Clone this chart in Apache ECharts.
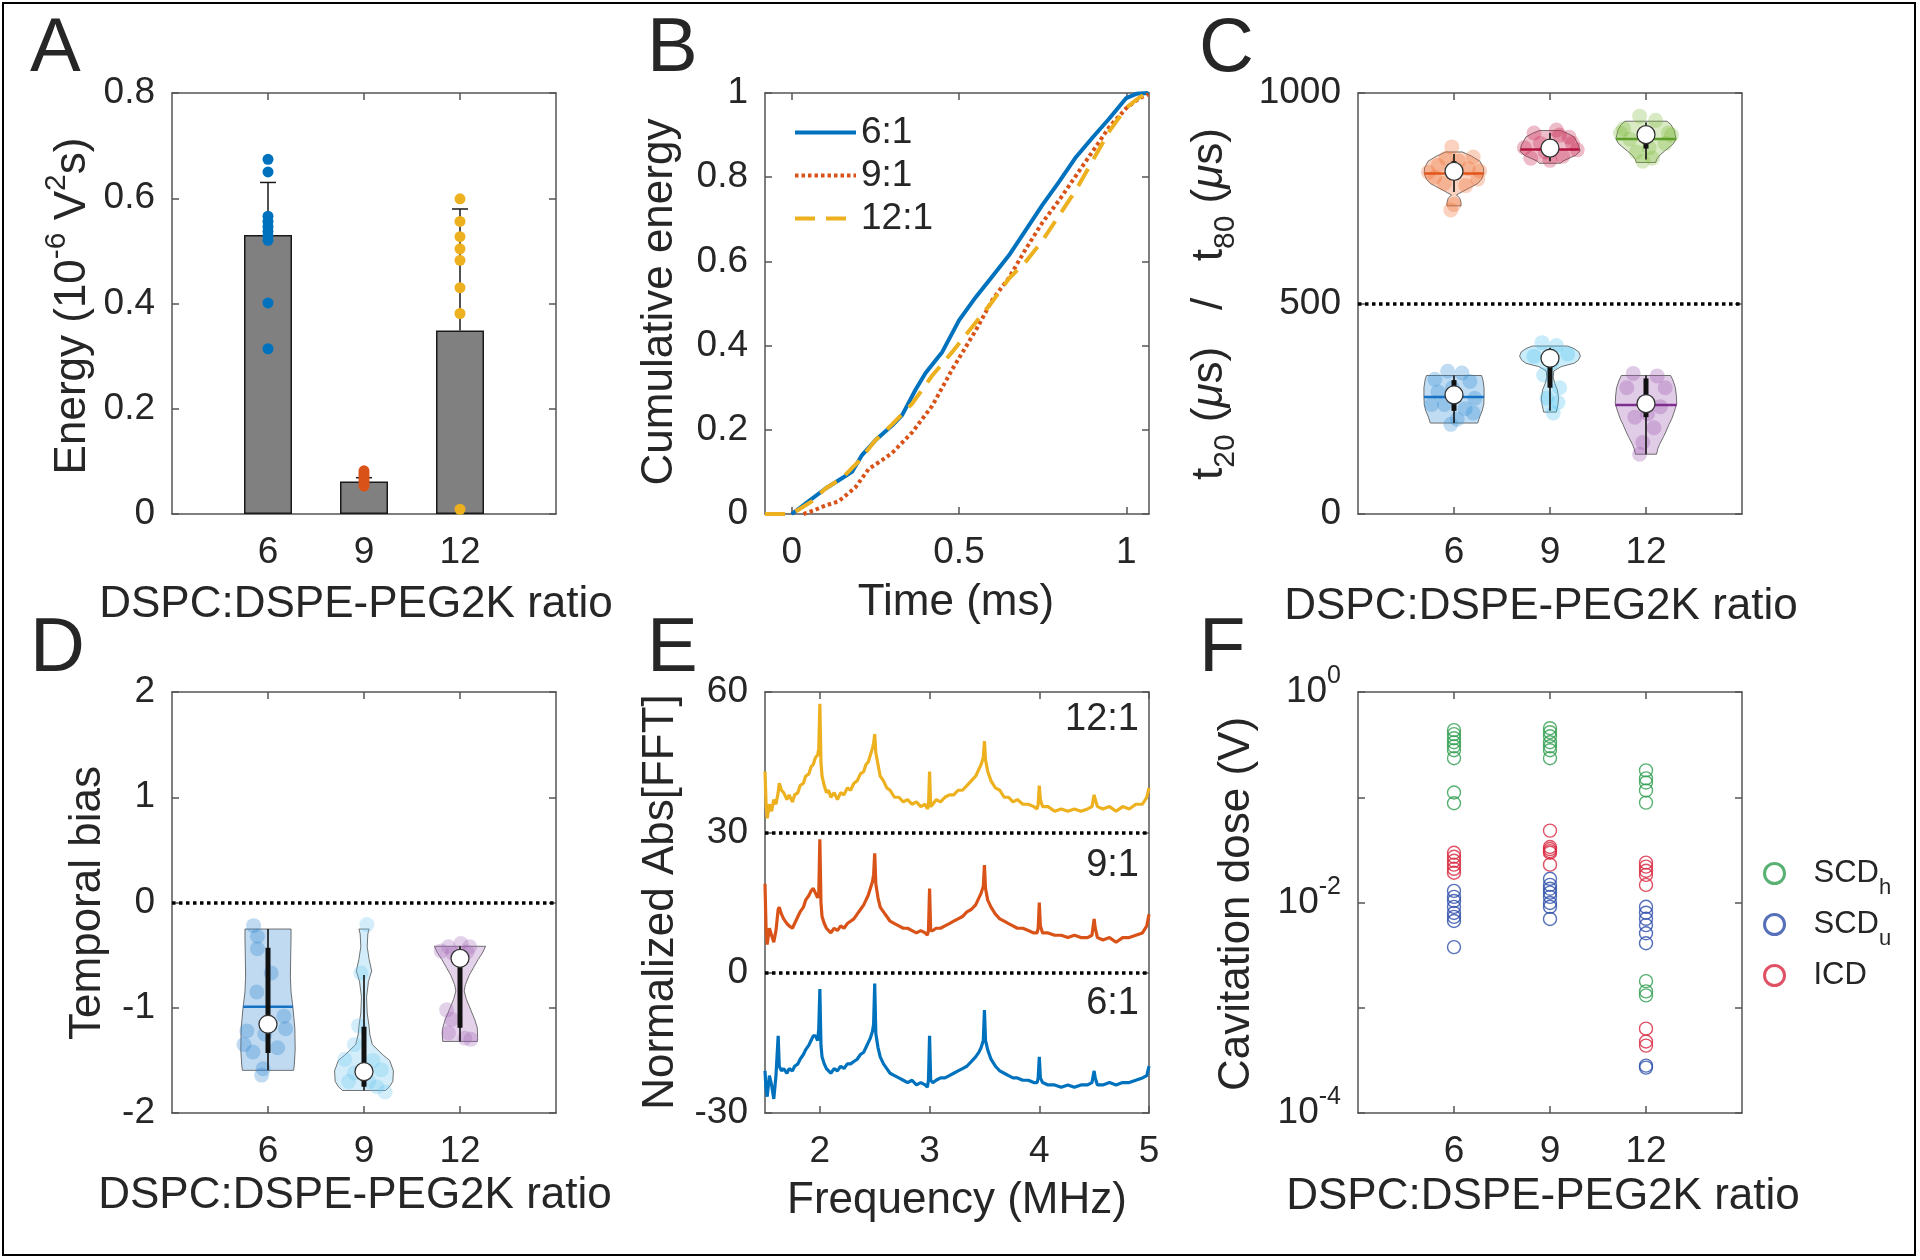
<!DOCTYPE html>
<html><head><meta charset="utf-8">
<script src="https://cdn.jsdelivr.net/npm/echarts@6.0.0/dist/echarts.min.js"></script>
<style>html,body{margin:0;padding:0;background:#fff}#main{width:1920px;height:1260px}</style>
</head><body><div id="main"></div>
<script>
// ---------------- shared categories ----------------
const ratioCats = [6, 9, 12];

// ---------------- Panel A ----------------
const aMeans = [0.53, 0.0616, 0.3485];
const aSdTop = [0.63, 0.069, 0.5796];
const aPts6 = [0.674, 0.650, 0.566, 0.556, 0.546, 0.537, 0.528, 0.52, 0.401, 0.314];
const aPts9 = [0.082, 0.077, 0.072, 0.067, 0.062, 0.057, 0.053];
const aPts12 = [0.599, 0.556, 0.527, 0.504, 0.482, 0.430, 0.381, 0.009];

// ---------------- Panel B ----------------
const bX6 = [0,0.05,0.1,0.15,0.18,0.21,0.25,0.3,0.33,0.37,0.4,0.45,0.5,0.55,0.6,0.65,0.7,0.75,0.8,0.85,0.9,0.95,1.0,1.03,1.066];
const bY6 = [0,0.03,0.06,0.085,0.1,0.14,0.175,0.21,0.235,0.295,0.335,0.385,0.46,0.515,0.565,0.615,0.675,0.735,0.79,0.848,0.895,0.94,0.988,0.998,1.0];
const bX9 = [0.035,0.07,0.1,0.14,0.19,0.23,0.27,0.3,0.36,0.42,0.48,0.55,0.6,0.65,0.7,0.75,0.8,0.85,0.9,0.95,1.0,1.04,1.066];
const bY9 = [0,0.01,0.02,0.03,0.063,0.107,0.128,0.145,0.194,0.257,0.344,0.436,0.509,0.562,0.63,0.693,0.746,0.804,0.862,0.92,0.964,0.988,0.997];
const bX12 = [-0.08,-0.01,0.02,0.06,0.1,0.15,0.2,0.25,0.3,0.36,0.42,0.48,0.55,0.6,0.65,0.7,0.75,0.8,0.85,0.9,0.95,1.0,1.04,1.066];
const bY12 = [0,0,0.01,0.03,0.06,0.085,0.125,0.175,0.213,0.262,0.329,0.385,0.455,0.505,0.56,0.6,0.65,0.71,0.77,0.84,0.91,0.965,0.99,1.0];
const bNames = ['6:1', '9:1', '12:1'];

// ---------------- Panel C ----------------
const cT80Colors = ['#EF6C2E', '#C8244F', '#80BB3A'];
const cT80Lines  = ['#E0561A', '#B4123E', '#5E9E2A'];
const cT20Colors = ['#2F8BD6', '#4CC0EE', '#9A55B0'];
const cT20Lines  = ['#1672C4', '#2AA8DD', '#7E2F8E'];
// outline: [value, half-width in ratio units]
const cT80Shapes = [
  [[860,0.26],[850,0.55],[838,0.81],[822,0.92],[809,0.93],[795,0.86],[785,0.74],[770,0.37],[758,0.08],[750,0.18],[740,0.22],[732,0.22]],
  [[911,0.33],[904,0.55],[896,0.75],[877,0.89],[862,0.94],[852,0.8],[845,0.6],[838,0.4],[833,0.33]],
  [[933,0.66],[925,0.78],[911,0.88],[891,0.94],[880,0.86],[872,0.74],[862,0.58],[853,0.44],[843,0.34],[835,0.3]]
];
const cT20Shapes = [
  [[329,0.86],[320,0.9],[300,0.94],[280,0.94],[260,0.93],[245,0.88],[230,0.8],[216,0.74]],
  [[399,0.55],[393,0.75],[385,0.9],[375,0.95],[365,0.88],[358,0.75],[350,0.35],[340,0.12],[325,0.1],[310,0.15],[295,0.23],[275,0.27],[260,0.25],[250,0.22],[242,0.2]],
  [[329,0.77],[318,0.84],[300,0.92],[280,0.95],[262,0.96],[242,0.88],[225,0.8],[213,0.72],[195,0.62],[184,0.55],[165,0.42],[155,0.37],[142,0.33]]
];
// [median, mean, meanHalfWidth, q1, q3, whiskerLow, whiskerHigh]
const cT80Stats = [[814,809,0.93,795,838,765,855],[869,866,0.92,852,885,838,905],[901,891,0.94,868,918,842,930]];
const cT20Stats = [[283,278,0.94,245,318,216,329],[370,null,0,300,382,245,395],[262,259,0.96,230,322,142,329]];
// points: [x offset, value]
const cT80Points = [
  [[-0.07,872],[0.6,848],[-0.5,828],[0.74,795],[-0.8,812],[0.37,780],[-0.3,785],[0.15,838],[-0.25,845],[0.45,820],[-0.6,800],[0.0,735],[-0.1,722],[0.8,815]],
  [[-0.5,905],[0.2,912],[0.6,895],[-0.8,870],[0.85,865],[-0.3,880],[0.4,850],[-0.6,845],[0.0,840],[0.7,880],[-0.15,860],[0.3,900]],
  [[-0.2,945],[0.3,935],[-0.7,915],[0.7,905],[-0.5,890],[0.6,880],[0.1,870],[-0.3,860],[0.2,845],[-0.1,838],[0.8,900],[-0.8,905]]
];
const cT20Points = [
  [[-0.2,339],[0.25,335],[-0.6,320],[0.5,315],[-0.05,300],[-0.5,290],[0.65,275],[-0.3,260],[0.35,250],[0.1,225],[-0.1,213],[-0.7,260],[0.6,240]],
  [[-0.25,407],[0.2,400],[0.55,380],[-0.5,375],[0.05,360],[0.3,300],[-0.1,275],[0.1,240],[0.25,265],[-0.2,330]],
  [[-0.4,334],[0.35,328],[-0.6,300],[0.05,262],[0.45,255],[0.05,238],[-0.35,230],[0.25,205],[-0.1,170],[-0.2,142],[0.6,300]]
];
const cRef = 500;

// ---------------- Panel D ----------------
const dColors = ['#2E86D0', '#6EC6F0', '#A468B8'];
const dLines  = ['#1672C4', '#2AA8DD', '#7E2F8E'];
const dShapes = [
  [[-0.252,0.72],[-0.35,0.72],[-0.5,0.71],[-0.7,0.7],[-0.85,0.72],[-1.0,0.78],[-1.2,0.84],[-1.4,0.85],[-1.55,0.82],[-1.595,0.8]],
  [[-0.252,0.16],[-0.3,0.12],[-0.42,0.1],[-0.54,0.16],[-0.65,0.24],[-0.75,0.14],[-0.9,0.08],[-1.05,0.1],[-1.18,0.16],[-1.25,0.18],[-1.35,0.26],[-1.45,0.6],[-1.5,0.8],[-1.6,0.92],[-1.7,0.9],[-1.75,0.8],[-1.786,0.67]],
  [[-0.416,0.8],[-0.48,0.7],[-0.54,0.57],[-0.62,0.42],[-0.69,0.29],[-0.78,0.17],[-0.84,0.13],[-0.92,0.2],[-1.03,0.35],[-1.12,0.47],[-1.19,0.54],[-1.28,0.55],[-1.32,0.54]]
];
const dStats = [[-1.157,-0.99,0.78,-1.43,-0.43,-1.595,-0.252],[-1.607,null,0,-1.75,-1.18,-1.786,-0.69],[-0.53,null,0,-1.19,-0.6,-1.32,-0.416]];
const dPoints = [
  [[-0.45,-0.22],[-0.33,-0.32],[-0.33,-0.44],[0.1,-0.67],[-0.35,-0.85],[0.5,-1.08],[-0.66,-1.22],[-0.1,-1.25],[0.55,-1.2],[-0.47,-1.42],[-0.75,-1.35],[0.3,-1.38],[-0.15,-1.58],[-0.2,-1.64]],
  [[0.09,-0.21],[-0.1,-0.67],[-0.17,-1.17],[-0.3,-1.35],[-0.6,-1.49],[0.54,-1.59],[0.15,-1.7],[0.66,-1.8],[-0.48,-1.7],[0.28,-1.5],[-0.3,-1.62],[0.4,-1.75]],
  [[-0.36,-0.42],[0.03,-0.39],[0.3,-0.42],[-0.59,-0.46],[-0.23,-0.48],[0.22,-0.47],[-0.42,-1.02],[-0.26,-1.11],[0.15,-1.29],[0.34,-1.3],[-0.36,-1.24]]
];
const dRef = 0;

// ---------------- Panel E ----------------
const eFreq = [
  1.50,1.51,1.52,1.54,1.56,1.58,1.60,1.62,1.63,1.65,
  1.67,1.70,1.72,1.75,1.77,1.80,1.82,1.85,1.87,1.90,
  1.92,1.94,1.96,1.98,1.99,2.00,2.01,2.02,2.04,2.06,
  2.08,2.10,2.13,2.16,2.19,2.22,2.25,2.28,2.31,2.34,
  2.37,2.40,2.42,2.44,2.46,2.48,2.49,2.50,2.51,2.53,
  2.55,2.58,2.61,2.64,2.68,2.72,2.76,2.80,2.84,2.88,
  2.92,2.96,2.98,2.99,3.00,3.01,3.03,3.06,3.10,3.14,
  3.18,3.22,3.26,3.30,3.34,3.38,3.42,3.45,3.47,3.49,
  3.50,3.51,3.53,3.56,3.60,3.64,3.68,3.72,3.76,3.80,
  3.85,3.90,3.95,3.98,3.99,4.00,4.01,4.03,4.08,4.14,
  4.20,4.26,4.32,4.38,4.44,4.48,4.50,4.51,4.53,4.58,
  4.64,4.70,4.76,4.82,4.88,4.94,4.98,5.00];
const eAmp12 = [
  43,36,33,36,34.5,37,36,38.5,40.5,39,
  38.5,37,38,36.5,38,38.5,40,40.5,42,42.5,
  44,44.5,46,46.5,48,57.5,45,42,40,38.5,
  39,37.5,38.5,37,38.5,38,39.5,39,40.5,41,
  42.5,43,44.5,45,46.5,48,49,51,47,44.5,
  42,41,39.5,39,37.5,37.5,36.5,37,36,36.5,
  35.5,36,35,35.5,43,35.5,36,37,36.5,37.5,
  38,38,39,39,40,41,42,43.5,44.5,46,
  49.5,45.5,43,41,39.5,39,37.5,37.5,36.5,37,
  36,36,35.5,35,36,40,37,35.5,35.5,34.5,
  35,34.5,35,34.5,35,35.5,38,37,35.5,35,
  35.5,34.5,35.5,35,36,36,37.5,39.5];
const eAmp9 = [
  19,9,6,9.5,8,6.5,9,13.5,14,12.5,
  11.5,10.5,10,9.5,10.5,12,13,14,15.5,16.5,
  17.5,18,17,16,17,28.5,15,12,10.5,9.5,
  9,8.5,9.5,9,10,9.5,10.5,11,11.5,12.5,
  13.5,14.5,15.5,16.5,18,19.5,21,25.5,19,16,
  14,13,12,11,10.5,10,9.5,9.5,9,8.5,
  9,8.5,8,9,18,9,9,9.5,9.5,10,
  10.5,11,11.5,12,13,13.5,14.5,16,17,18.5,
  23,18,15.5,14,12.5,11.5,11,10.5,10,9.5,
  9.5,9,8.5,8.5,9.5,15,10,8.5,8.5,8,
  8,7.5,8,7.5,7.5,8,11.5,9.5,7.5,7,
  7.5,6.5,7.5,7.5,8,8.5,10,12.5];
const eAmp6 = [
  -21,-25,-26.5,-22,-24,-27,-22,-13.5,-20,-21,
  -20.5,-21.5,-20.5,-21,-20,-19.5,-18.5,-17.5,-16.5,-15.5,
  -14.5,-13.5,-13.5,-14.5,-12,-3.5,-15.5,-18,-19.5,-20.5,
  -21,-21.5,-20.5,-21,-20,-20.5,-19.5,-19.5,-19,-18.5,
  -17.5,-17,-16,-15,-14,-12.5,-11,-2.3,-13,-16,
  -18,-19.5,-20.5,-21.5,-22,-22.5,-23,-23.5,-23,-24,
  -23.5,-24,-24.5,-23,-13.5,-23,-23.5,-23,-22.5,-22.5,
  -22,-21.5,-21,-20.5,-20,-19,-18,-17,-16,-14.5,
  -8,-14.5,-16.5,-18.5,-20,-21,-21.5,-22,-22.5,-22.5,
  -23,-23,-23.5,-23.5,-22.5,-18,-22.5,-23.5,-24,-24,
  -24.5,-24,-24.5,-24,-24,-23.5,-21,-22.5,-24,-24,
  -23.5,-24,-23.5,-23.5,-23,-22.5,-22,-20];
const eRefs = [30, 0];
const eLabels = ['12:1', '9:1', '6:1'];

// ---------------- Panel F ----------------
const fSCDh = [[0.434,0.398,0.364,0.333,0.305,0.28,0.235,0.111,0.0877],
               [0.453,0.415,0.38,0.333,0.305,0.28,0.235],
               [0.18,0.151,0.138,0.116,0.089,0.00179,0.00143,0.00131]];
const fSCDu = [[0.0129,0.0113,0.01035,0.00908,0.00796,0.0073,0.00668,0.00377],
               [0.0168,0.0147,0.0135,0.0124,0.0113,0.0099,0.0091,0.00698],
               [0.0091,0.008,0.007,0.0061,0.0051,0.0041,0.000282,0.00027]];
const fICD  = [[0.0297,0.0272,0.0249,0.0229,0.0209,0.0192],
               [0.0482,0.0337,0.0322,0.0308,0.0297,0.0229],
               [0.0239,0.0219,0.02,0.0183,0.0147,0.000633,0.000478,0.000437]];

// ================= build =================
const FONT = '"Liberation Sans", Arial, Helvetica, sans-serif';
const TXT = '#262626';
const AXC = '#555555';
const TICK = 37;

function rgba(hex, a) { const n = parseInt(hex.slice(1), 16); return 'rgba(' + (n >> 16) + ',' + ((n >> 8) & 255) + ',' + (n & 255) + ',' + a + ')'; }

const G = [[172,93],[765,93],[1358,93],[172,692],[765,692],[1358,692]];
const grid = G.map(([l, t]) => ({ left: l, top: t, width: 384, height: 421 }));

function xAxes(gi, c) {
  const mk = (pos, show) => ({
    gridIndex: gi, type: 'value', position: pos, min: c.min, max: c.max,
    splitLine: { show: false },
    axisLine: { show: true, onZero: false, lineStyle: { color: AXC, width: 1.5 } },
    axisTick: { show: true, inside: true, length: 7, lineStyle: { color: AXC, width: 1.5 }, customValues: c.ticks },
    axisLabel: show ? { show: true, customValues: c.ticks, margin: 20, fontSize: TICK, color: TXT, fontFamily: FONT } : { show: false }
  });
  return [mk('bottom', true), mk('top', false)];
}
function yAxes(gi, c) {
  const mk = (pos, show) => {
    const o = {
      gridIndex: gi, type: c.type || 'value', position: pos, min: c.min, max: c.max,
      splitLine: { show: false },
      axisLine: { show: true, onZero: false, lineStyle: { color: AXC, width: 1.5 } },
      axisTick: { show: true, inside: true, length: 7, lineStyle: { color: AXC, width: 1.5 } },
      axisLabel: show ? Object.assign({ show: true, margin: 17, fontSize: TICK, color: TXT, fontFamily: FONT }, c.label || {}) : { show: false }
    };
    if (c.interval) o.interval = c.interval;
    if (c.type === 'log') o.logBase = 10;
    return o;
  };
  return [mk('left', true), mk('right', false)];
}
const catX = { min: 3, max: 15, ticks: ratioCats };
const xAxis = [].concat(
  xAxes(0, catX),
  xAxes(1, { min: -0.08, max: 1.068, ticks: [0, 0.5, 1] }),
  xAxes(2, catX),
  xAxes(3, catX),
  xAxes(4, { min: 1.5, max: 5, ticks: [2, 3, 4, 5] }),
  xAxes(5, catX)
);
const yAxis = [].concat(
  yAxes(0, { min: 0, max: 0.8, interval: 0.2 }),
  yAxes(1, { min: 0, max: 1, interval: 0.2 }),
  yAxes(2, { min: 0, max: 1000, interval: 500, label: { formatter: v => String(v) } }),
  yAxes(3, { min: -2, max: 2, interval: 1 }),
  yAxes(4, { min: -30, max: 60, interval: 30 }),
  yAxes(5, { type: 'log', min: 0.0001, max: 1, label: {
    lineHeight: 56,
    formatter: v => { const e = Math.round(Math.log10(v)); return (e % 2 === 0) ? '10{sup|' + e + '}' : ''; },
    rich: { sup: { fontSize: 25, lineHeight: 25, verticalAlign: 'top', color: TXT, fontFamily: FONT } }
  } })
);

const refLine = (vals) => ({
  silent: true, symbol: ['none', 'none'], label: { show: false }, animation: false,
  lineStyle: { color: '#000', width: 3.5, type: [3.5, 3.5] },
  data: vals.map(v => ({ yAxis: v }))
});

function violinItem(shapes, cols) {
  return (params, api) => {
    const cx = api.value(0), i = api.value(1);
    const s = shapes[i];
    const pts = s.map(([v, h]) => api.coord([cx + h, v]));
    for (let k = s.length - 1; k >= 0; k--) pts.push(api.coord([cx - s[k][1], s[k][0]]));
    return { type: 'polygon', shape: { points: pts }, style: { fill: rgba(cols[i], 0.3), stroke: 'rgba(70,70,70,0.75)', lineWidth: 1 } };
  };
}
function statsItem(stats, lineCols) {
  return (params, api) => {
    const cx = api.value(0), i = api.value(1);
    const [med, mean, mh, q1, q3, wlo, whi] = stats[i];
    const ch = [];
    const L = (a, b, stroke, w) => ({ type: 'line', shape: { x1: a[0], y1: a[1], x2: b[0], y2: b[1] }, style: { stroke, lineWidth: w } });
    if (mean !== null) ch.push(L(api.coord([cx - mh, mean]), api.coord([cx + mh, mean]), lineCols[i], 2.5));
    ch.push(L(api.coord([cx, wlo]), api.coord([cx, whi]), '#111', 1.6));
    ch.push(L(api.coord([cx, q1]), api.coord([cx, q3]), '#111', 5));
    const m = api.coord([cx, med]);
    ch.push({ type: 'circle', shape: { cx: m[0], cy: m[1], r: 9 }, style: { fill: '#fff', stroke: '#333', lineWidth: 1.3 } });
    return { type: 'group', children: ch };
  };
}
function pointData(sets, cols) {
  const out = [];
  sets.forEach((set, i) => set.forEach(([dx, v]) => out.push({ value: [ratioCats[i] + dx, v], itemStyle: { color: rgba(cols[i], 0.38) } })));
  return out;
}
const idxData = ratioCats.map((c, i) => [c, i]);

const series = [];
// ---- A ----
series.push({ type: 'bar', xAxisIndex: 0, yAxisIndex: 0, barWidth: 48, z: 2, silent: true,
  data: ratioCats.map((c, i) => [c, aMeans[i]]),
  itemStyle: { color: '#808080', borderColor: '#1a1a1a', borderWidth: 1.5 } });
series.push({ type: 'custom', xAxisIndex: 0, yAxisIndex: 0, z: 3, silent: true,
  data: ratioCats.map((c, i) => [c, aMeans[i], aSdTop[i]]), encode: { x: 0, y: [1, 2] },
  renderItem: (p, api) => {
    const b = api.coord([api.value(0), api.value(1)]), t = api.coord([api.value(0), api.value(2)]);
    return { type: 'group', children: [
      { type: 'line', shape: { x1: b[0], y1: b[1], x2: t[0], y2: t[1] }, style: { stroke: '#1a1a1a', lineWidth: 1.5 } },
      { type: 'line', shape: { x1: t[0] - 8, y1: t[1], x2: t[0] + 8, y2: t[1] }, style: { stroke: '#1a1a1a', lineWidth: 1.5 } }] };
  } });
[[aPts6, 6, '#0072BD'], [aPts9, 9, '#D95319'], [aPts12, 12, '#EDB120']].forEach(([arr, c, col]) => {
  series.push({ type: 'scatter', xAxisIndex: 0, yAxisIndex: 0, z: 4, symbolSize: 11, silent: true,
    data: arr.map(v => [c, v]), itemStyle: { color: col, opacity: 1 } });
});
// ---- B ----
[[bX6, bY6, '#0072BD', 'solid'], [bX9, bY9, '#D95319', [3.5, 3]], [bX12, bY12, '#EDB120', [20, 11]]].forEach(([xs, ys, col, tp], k) => {
  series.push({ type: 'line', name: bNames[k], xAxisIndex: 2, yAxisIndex: 2, z: 3, symbol: 'none', showSymbol: false, silent: true,
    data: xs.map((x, i) => [x, ys[i]]), lineStyle: { color: col, width: 4, type: tp }, itemStyle: { color: col } });
});
// ---- C ----
series.push({ type: 'custom', xAxisIndex: 4, yAxisIndex: 4, z: 2, data: idxData, encode: { x: 0, y: 1 }, renderItem: violinItem(cT80Shapes, cT80Colors), silent: true });
series.push({ type: 'custom', xAxisIndex: 4, yAxisIndex: 4, z: 2, data: idxData, encode: { x: 0, y: 1 }, renderItem: violinItem(cT20Shapes, cT20Colors), silent: true });
series.push({ type: 'scatter', xAxisIndex: 4, yAxisIndex: 4, z: 3, symbolSize: 15, silent: true,
  data: pointData(cT80Points, cT80Colors).concat(pointData(cT20Points, cT20Colors)), markLine: refLine([cRef]) });
series.push({ type: 'custom', xAxisIndex: 4, yAxisIndex: 4, z: 4, data: idxData, encode: { x: 0, y: 1 }, renderItem: statsItem(cT80Stats, cT80Lines), silent: true });
series.push({ type: 'custom', xAxisIndex: 4, yAxisIndex: 4, z: 4, data: idxData, encode: { x: 0, y: 1 }, renderItem: statsItem(cT20Stats, cT20Lines), silent: true });
// ---- D ----
series.push({ type: 'custom', xAxisIndex: 6, yAxisIndex: 6, z: 2, data: idxData, encode: { x: 0, y: 1 }, renderItem: violinItem(dShapes, dColors), silent: true });
series.push({ type: 'scatter', xAxisIndex: 6, yAxisIndex: 6, z: 3, symbolSize: 15, silent: true,
  data: pointData(dPoints, dColors), markLine: refLine([dRef]) });
series.push({ type: 'custom', xAxisIndex: 6, yAxisIndex: 6, z: 4, data: idxData, encode: { x: 0, y: 1 }, renderItem: statsItem(dStats, dLines), silent: true });
// ---- E ----
[[eAmp12, '#EDB120'], [eAmp9, '#D95319'], [eAmp6, '#0072BD']].forEach(([arr, col], k) => {
  const s = { type: 'line', xAxisIndex: 8, yAxisIndex: 8, z: 3, symbol: 'none', showSymbol: false, silent: true,
    data: eFreq.map((f, i) => [f, arr[i]]), lineStyle: { color: col, width: 3.2 } };
  if (k === 2) s.markLine = refLine(eRefs);
  series.push(s);
});
// ---- F ----
const fCols = { SCDh: '#2E9E4F', SCDu: '#2B4BA8', ICD: '#D7263D' };
[['SCDh', fSCDh], ['SCDu', fSCDu], ['ICD', fICD]].forEach(([nm, sets]) => {
  const d = [];
  sets.forEach((arr, i) => arr.forEach(v => d.push([ratioCats[i], v])));
  series.push({ type: 'scatter', name: nm, xAxisIndex: 10, yAxisIndex: 10, z: 3, symbol: 'circle', symbolSize: 13, silent: true,
    data: d, itemStyle: { color: 'rgba(0,0,0,0)', borderColor: fCols[nm], borderWidth: 1.4 } });
});

// ---- text ----
const supRich = {
  sup: { fontSize: 30, lineHeight: 30, verticalAlign: 'top', fill: TXT, fontFamily: FONT },
  sub: { fontSize: 30, lineHeight: 30, verticalAlign: 'bottom', fill: TXT, fontFamily: FONT },
  i: { fontSize: 44, fontStyle: 'italic', fill: TXT, fontFamily: FONT }
};
function T(x, y, text, o) {
  o = o || {};
  const st = { text, fill: TXT, fontFamily: FONT, fontSize: o.size || 44, align: o.align || 'center', verticalAlign: 'middle' };
  if (o.rich) { st.rich = supRich; st.lineHeight = 62; }
  return { type: 'text', x, y, rotation: o.rot ? Math.PI / 2 : 0, silent: true, z: 100, style: st };
}
const graphic = [
  { type: 'rect', shape: { x: 3, y: 3, width: 1912, height: 1252 }, style: { fill: 'transparent', stroke: '#000', lineWidth: 2 }, silent: true, z: 0 },
  T(30, 50, 'A', { size: 76, align: 'left' }), T(647, 50, 'B', { size: 76, align: 'left' }), T(1199, 50, 'C', { size: 76, align: 'left' }),
  T(30, 650, 'D', { size: 76, align: 'left' }), T(647, 650, 'E', { size: 76, align: 'left' }), T(1199, 650, 'F', { size: 76, align: 'left' }),
  T(356, 605, 'DSPC:DSPE-PEG2K ratio'), T(956, 603, 'Time (ms)'), T(1541, 607, 'DSPC:DSPE-PEG2K ratio'),
  T(355, 1196, 'DSPC:DSPE-PEG2K ratio'), T(957, 1201, 'Frequency (MHz)'), T(1543, 1197, 'DSPC:DSPE-PEG2K ratio'),
  T(73, 306, 'Energy (10{sup|-6} V{sup|2}s)', { rot: true, rich: true }),
  T(660, 302, 'Cumulative energy', { rot: true }),
  T(1210, 304, 't{sub|20} ({i|μ}s)   /   t{sub|80} ({i|μ}s)', { rot: true, rich: true }),
  T(88, 903, 'Temporal bias', { rot: true }),
  T(661, 902, 'Normalized Abs[FFT]', { rot: true }),
  T(1237, 904, 'Cavitation dose (V)', { rot: true }),
  T(1139, 720, eLabels[0], { size: 38, align: 'right' }),
  T(1139, 866, eLabels[1], { size: 38, align: 'right' }),
  T(1139, 1004, eLabels[2], { size: 38, align: 'right' })
];

const legend = [
  { data: bNames, orient: 'vertical', left: 788, top: 109, itemWidth: 61, itemHeight: 14, itemGap: 6, selectedMode: false,
    itemStyle: { opacity: 0 }, lineStyle: { width: 4 },
    textStyle: { fontSize: 37, color: TXT, fontFamily: FONT } },
  { data: ['SCDh', 'SCDu', 'ICD'].map(n => ({ name: n, icon: 'circle', itemStyle: { color: 'rgba(0,0,0,0)', borderColor: fCols[n], borderWidth: 3 } })),
    orient: 'vertical', left: 1758, top: 843, itemWidth: 20, itemHeight: 20, itemGap: 0, selectedMode: false,
    formatter: n => n === 'SCDh' ? 'SCD{sub|h}' : (n === 'SCDu' ? 'SCD{sub|u}' : 'ICD'),
    textStyle: { fontSize: 31, lineHeight: 51, color: TXT, fontFamily: FONT, padding: [0, 0, 0, 24],
      rich: { sub: { fontSize: 22, lineHeight: 22, verticalAlign: 'bottom', color: TXT, fontFamily: FONT } } } }
];

const chart = echarts.init(document.getElementById('main'), null, { renderer: 'canvas' });
chart.setOption({ animation: false, backgroundColor: '#fff', textStyle: { fontFamily: FONT }, grid, xAxis, yAxis, series, legend, graphic });
</script></body></html>
